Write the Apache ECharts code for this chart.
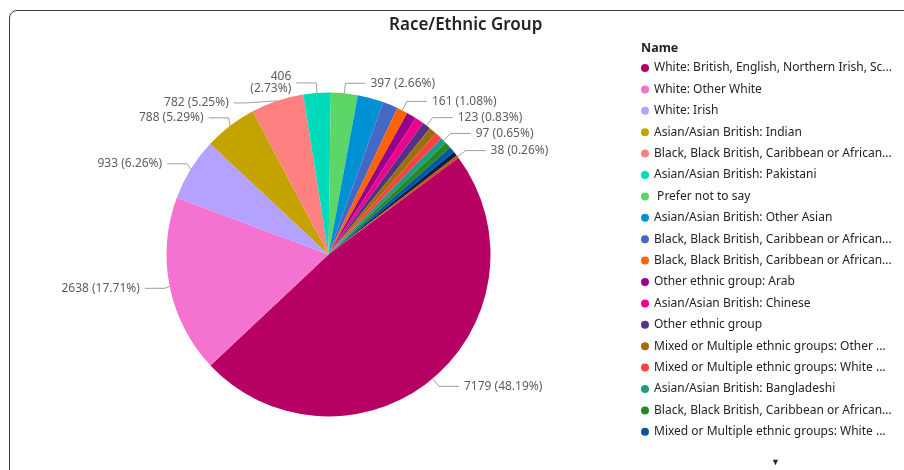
<!DOCTYPE html>
<html><head><meta charset="utf-8">
<script src="https://cdn.jsdelivr.net/npm/echarts@6/dist/echarts.min.js"></script>
<style>
html,body{margin:0;padding:0;background:#fff;overflow:hidden;width:904px;height:470px;}
#frame{position:absolute;left:9px;top:10px;width:1000px;height:600px;border:1.5px solid #3b3a39;border-radius:8px;box-sizing:border-box;}
#chart{position:absolute;left:0;top:0;width:904px;height:470px;}
</style></head><body>
<div id="frame"></div>
<div id="chart"></div>
<script>
const categories = [
  "White: British, English, Northern Irish, Scottish or Welsh",
  "White: Other White",
  "White: Irish",
  "Asian/Asian British: Indian",
  "Black, Black British, Caribbean or African: African",
  "Asian/Asian British: Pakistani",
  " Prefer not to say",
  "Asian/Asian British: Other Asian",
  "Black, Black British, Caribbean or African: Caribbean",
  "Black, Black British, Caribbean or African: Other Black",
  "Other ethnic group: Arab",
  "Asian/Asian British: Chinese",
  "Other ethnic group",
  "Mixed or Multiple ethnic groups: Other Mixed",
  "Mixed or Multiple ethnic groups: White and Asian",
  "Asian/Asian British: Bangladeshi",
  "Black, Black British, Caribbean or African: Any other",
  "Mixed or Multiple ethnic groups: White and Black Caribbean",
  "Mixed or Multiple ethnic groups: White and Black African",
  "White: Gypsy or Irish Traveller"
];
const legendText = [
  "White: British, English, Northern Irish, Sc...",
  "White: Other White",
  "White: Irish",
  "Asian/Asian British: Indian",
  "Black, Black British, Caribbean or African...",
  "Asian/Asian British: Pakistani",
  " Prefer not to say",
  "Asian/Asian British: Other Asian",
  "Black, Black British, Caribbean or African...",
  "Black, Black British, Caribbean or African...",
  "Other ethnic group: Arab",
  "Asian/Asian British: Chinese",
  "Other ethnic group",
  "Mixed or Multiple ethnic groups: Other ...",
  "Mixed or Multiple ethnic groups: White ...",
  "Asian/Asian British: Bangladeshi",
  "Black, Black British, Caribbean or African...",
  "Mixed or Multiple ethnic groups: White ..."
];
const values = [7179, 2638, 933, 788, 782, 406, 397, 385, 225, 161, 145, 133, 123, 115, 106, 97, 94, 85, 67, 38];
const labelShown = [true, true, true, true, true, true, true, false, false, true, false, false, true, false, false, true, false, false, false, true];
const palette = ["#B60064", "#F472D0", "#B5A1FF", "#C4A200", "#FF8080", "#00DBBC", "#5BD667", "#0091D5", "#4668C5", "#FF6300",
  "#99008A", "#EC008C", "#533285", "#99700A", "#FF4141", "#1F9A85", "#25891C", "#0057A2", "#002050", "#C94F0F"];

const total = values.reduce((a, b) => a + b, 0);
const pct = v => (v / total * 100).toFixed(2) + '%';
const FONT = "'Segoe UI', 'Noto Sans', sans-serif";
const chart = echarts.init(document.getElementById('chart'), null, {renderer: 'canvas'});
const pieData = categories.map((n, i) => ({
  name: n, value: values[i],
  itemStyle: {color: palette[i]},
  label: {show: labelShown[i]},
  labelLine: i === 4 ? {show: labelShown[i], length: 22, length2: 12} : {show: labelShown[i]}
}));
chart.setOption({
  animation: false,
  title: [
    {text: 'Race/Ethnic Group', left: 384, top: 12,
     textStyle: {fontFamily: FONT, fontSize: 17, fontWeight: 600, color: '#252423'}},
    {text: 'Name', left: 636, top: 37,
     textStyle: {fontFamily: FONT, fontSize: 12.5, fontWeight: 'bold', color: '#252423'}},
    {text: '\u25BC', left: 766, top: 453,
     textStyle: {fontFamily: FONT, fontSize: 9, fontWeight: 'normal', color: '#252423'}}
  ],
  legend: {
    orient: 'vertical', left: 636, top: 56,
    icon: 'circle', itemWidth: 8, itemHeight: 8, itemGap: 7.4,
    data: categories.slice(0, legendText.length),
    formatter: name => legendText[categories.indexOf(name)],
    textStyle: {fontFamily: FONT, fontSize: 12, color: '#252423', lineHeight: 14},
    selectedMode: false
  },
  series: [{
    type: 'pie',
    center: [328.5, 254.5], radius: 162,
    startAngle: 36.7, clockwise: true,
    avoidLabelOverlap: true,
    data: pieData,
    label: {position: 'outside',
      formatter: p => p.dataIndex === 5 ? p.value + '\n(' + pct(p.value) + ')' : p.value + ' (' + pct(p.value) + ')',
      fontFamily: FONT, fontSize: 12, color: '#605E5C'},
    labelLine: {length: 10, length2: 20, lineStyle: {color: '#A19F9D', width: 1}},
    emphasis: {disabled: true}
  }]
});
</script></body></html>
